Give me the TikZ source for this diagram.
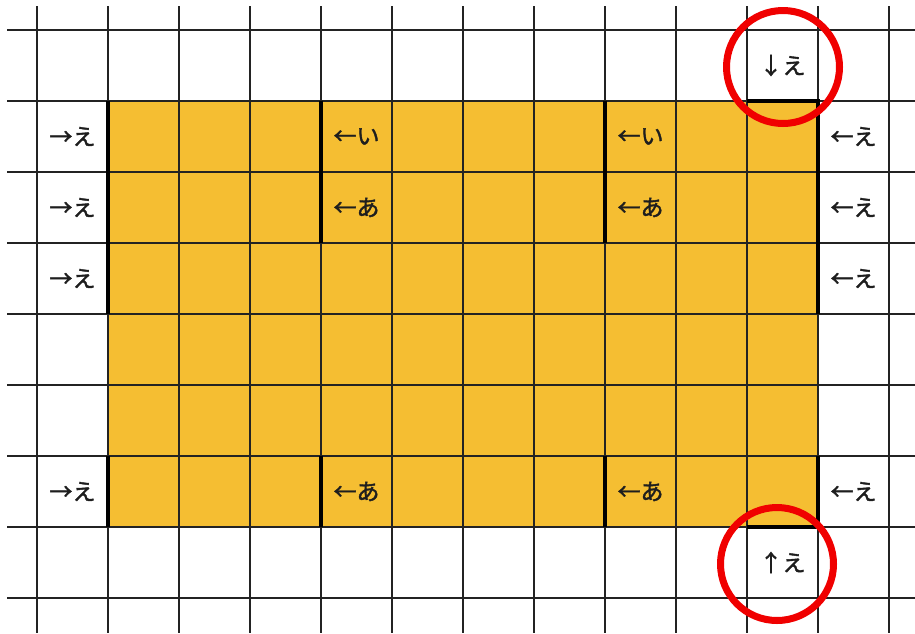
\documentclass[tikz,border=0pt]{standalone}
\usepackage{fontspec}
\newfontfamily\jp[FakeBold=1.6]{Noto Sans CJK JP}
\definecolor{fillor}{RGB}{245,190,50}
\definecolor{gridc}{RGB}{35,35,35}
\definecolor{ringred}{RGB}{240,0,0}
\definecolor{txt}{RGB}{30,30,30}
\begin{document}
\begin{tikzpicture}[x=1pt,y=-1pt,
  thin/.style={draw=gridc,line width=1.6pt},
  thickline/.style={draw=black,line width=4.5pt},
  lbl/.style={font=\jp\fontsize{23}{23}\selectfont,text=txt,inner sep=0pt,anchor=center},
  ring/.style={circle,draw=ringred,line width=7pt,minimum size=113pt,inner sep=0pt}]
\useasboundingbox (0,0) rectangle (915,633);
\fill[white] (0,0) rectangle (915,633);
% orange area
\fill[fillor] (108,101) rectangle (818,527);
% grid
\foreach \k in {0,...,12} {\draw[thin] ({37+71*\k},6) -- ({37+71*\k},633);}
\foreach \k in {0,...,8} {\draw[thin] (7,{30+71*\k}) -- (915,{30+71*\k});}
% thick walls
\draw[thickline] (108,101) -- (108,314);
\draw[thickline] (108,456) -- (108,527);
\draw[thickline] (321,101) -- (321,243);
\draw[thickline] (321,456) -- (321,527);
\draw[thickline] (605,101) -- (605,243);
\draw[thickline] (605,456) -- (605,527);
\draw[thickline] (818,98.75) -- (818,314);
\draw[thickline] (818,456) -- (818,529.25);
\draw[thickline] (747,101) -- (818,101);
\draw[thickline] (747,527) -- (818,527);
% labels: col center x = 72.5+71c, row center y = 65.5+71r
\node[lbl] (l1) at (72.5,136.5) {→え};
\node[lbl] (l2) at (72.5,207.5) {→え};
\node[lbl] (l3) at (72.5,278.5) {→え};
\node[lbl] (l6) at (72.5,491.5) {→え};
\node[lbl] (a1) at (356.5,136.5) {←い};
\node[lbl] (b1) at (640.5,136.5) {←い};
\node[lbl] (a2) at (356.5,207.5) {←あ};
\node[lbl] (b2) at (640.5,207.5) {←あ};
\node[lbl] (a6) at (356.5,491.5) {←あ};
\node[lbl] (b6) at (640.5,491.5) {←あ};
\node[lbl] (r1) at (853.5,136.5) {←え};
\node[lbl] (r2) at (853.5,207.5) {←え};
\node[lbl] (r3) at (853.5,278.5) {←え};
\node[lbl] (r6) at (853.5,491.5) {←え};
\node[lbl] (top) at (782.5,65.5) {↓え};
\node[lbl] (bot) at (782.5,562.5) {↑え};
% red rings
\node[ring] (ringtop) at (783,67) {};
\node[ring] (ringbot) at (777,564) {};
\end{tikzpicture}
\end{document}
